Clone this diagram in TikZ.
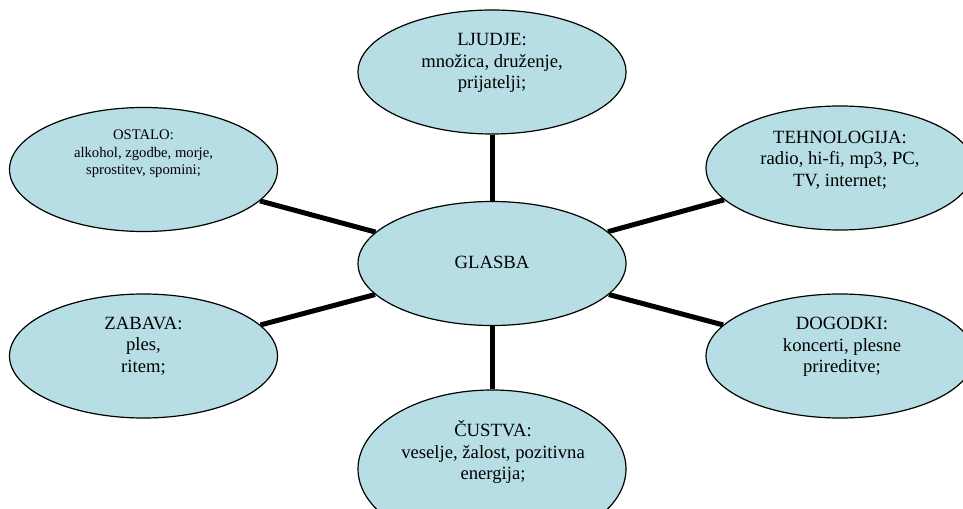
\documentclass[tikz,border=0pt]{standalone}
\usepackage{fontspec}
\setmainfont{Liberation Serif}
\usetikzlibrary{shapes.geometric}
\definecolor{bubblefill}{RGB}{183,222,228}
\pgfdeclarelayer{bg}
\pgfsetlayers{bg,main}
\tikzset{
  bubble/.style={ellipse, draw=black, line width=0.9pt, fill=bubblefill,
    minimum width=201pt, minimum height=93pt, inner sep=0pt},
  txt/.style={align=center, inner sep=0pt, font=\fontsize{14}{16.2}\selectfont},
  smalltxt/.style={align=center, inner sep=0pt, font=\fontsize{11}{13.2}\selectfont},
  link/.style={line width=3.75pt}
}
\begin{document}
\begin{tikzpicture}[x=0.75pt,y=-0.75pt]
\path[use as bounding box, clip] (0,0) rectangle (963,509);
\begin{pgfonlayer}{bg}
\fill[white] (0,0) rectangle (963,509);
\end{pgfonlayer}
% ellipses
\node[bubble] (glasba) at (492,263.5) {};
\node[bubble] (ljudje) at (492,72) {};
\node[bubble] (ostalo) at (143.5,169.5) {};
\node[bubble] (tehno) at (840,168) {};
\node[bubble] (zabava) at (143.5,356) {};
\node[bubble] (dogodki) at (840,356) {};
\node[bubble, minimum height=118.5pt] (custva) at (492,469) {};
% texts
\node[txt] (glasbaT) at (492,262) {GLASBA};
\node[txt] (ljudjeT) at (492,63) {LJUDJE:\\množica, druženje,\\prijatelji;};
\node[smalltxt] (ostaloT) at (143.5,154) {OSTALO:\\alkohol, zgodbe, morje,\\sprostitev, spomini;};
\node[txt] (tehnoT) at (840,160) {TEHNOLOGIJA:\\radio, hi-fi, mp3, PC,\\TV, internet;};
\node[txt] (zabavaT) at (143.5,346) {ZABAVA:\\ples,\\ritem;};
\node[txt] (dogodkiT) at (842,347) {DOGODKI:\\koncerti, plesne\\prireditve;};
\node[txt] (custvaT) at (493,452) {ČUSTVA:\\veselje, žalost, pozitivna\\energija;};
% connectors
\begin{pgfonlayer}{bg}
\draw[link] (glasba) -- (ljudje);
\draw[link] (glasba) -- (ostalo);
\draw[link] (glasba) -- (tehno);
\draw[link] (glasba) -- (zabava);
\draw[link] (glasba) -- (dogodki);
\draw[link] (glasba) -- (custva);
\end{pgfonlayer}
\end{tikzpicture}
\end{document}
